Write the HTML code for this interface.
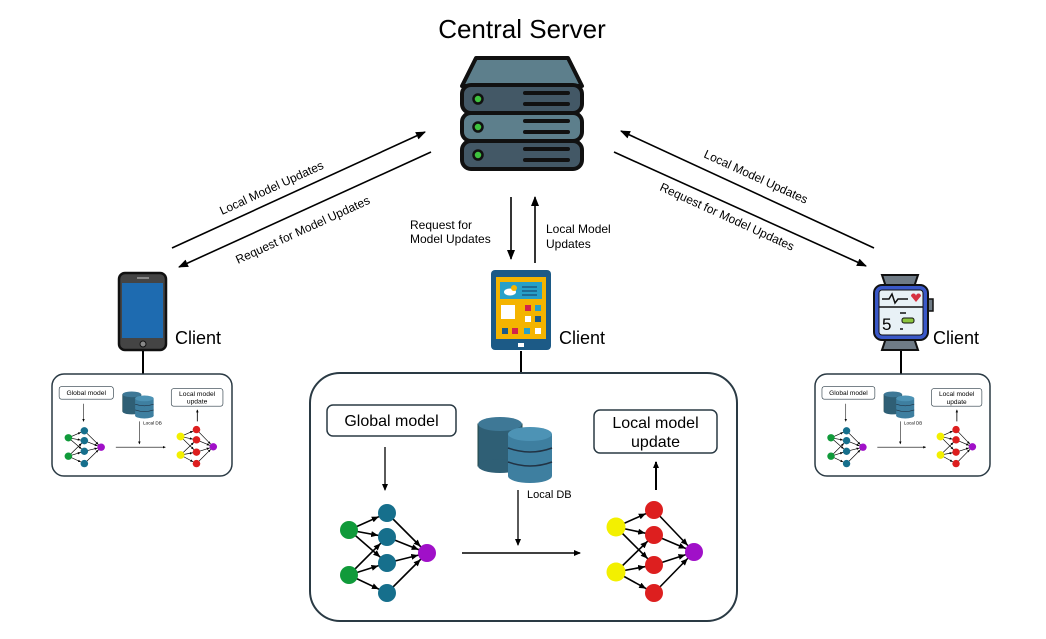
<!DOCTYPE html>
<html><head><meta charset="utf-8"><style>
html,body{margin:0;padding:0;background:#fff;}
svg{display:block;font-family:"Liberation Sans",Arial,sans-serif;}
</style></head><body>
<svg width="1046" height="639" viewBox="0 0 1046 639" xmlns="http://www.w3.org/2000/svg">
<defs>
<marker id="ah" markerWidth="10" markerHeight="8" refX="9" refY="4" orient="auto" markerUnits="userSpaceOnUse">
<path d="M0,0 L10,4 L0,8 z" fill="#000"/></marker>
<marker id="ahs" markerWidth="7" markerHeight="6" refX="6" refY="3" orient="auto" markerUnits="userSpaceOnUse">
<path d="M0,0 L7,3 L0,6 z" fill="#000"/></marker>
<marker id="ahn" markerWidth="20" markerHeight="6" refX="16" refY="3" orient="auto" markerUnits="userSpaceOnUse">
<path d="M0,0 L7,3 L0,6 z" fill="#000"/></marker>
<g id="db">
  <rect x="0" y="8" width="44" height="42" fill="#2f5f75" stroke="#244" stroke-width="1"/>
  <ellipse cx="22" cy="50" rx="22" ry="7" fill="#2f5f75"/>
  <ellipse cx="22" cy="8" rx="22" ry="7" fill="#3e7896"/>
  <rect x="30" y="18" width="44" height="42" fill="#3e7fa0"/>
  <ellipse cx="52" cy="60" rx="22" ry="7" fill="#3e7fa0"/>
  <ellipse cx="52" cy="18" rx="22" ry="7" fill="#4d93b5"/>
  <path d="M30,32 Q52,40 74,32 M30,46 Q52,54 74,46" stroke="#234" stroke-width="1.5" fill="none"/>
</g>
<g id="content">
  <rect x="17" y="33" width="129" height="31" rx="6" fill="#fff" stroke="#2a3a44" stroke-width="1.5"/>
  <text x="81.5" y="54" font-size="16" text-anchor="middle">Global model</text>
  <rect x="284" y="38" width="123" height="43" rx="6" fill="#fff" stroke="#2a3a44" stroke-width="1.5"/>
  <text x="345.5" y="56" font-size="16" text-anchor="middle">Local model</text>
  <text x="345.5" y="75" font-size="16" text-anchor="middle">update</text>
  <use href="#db" x="168" y="44"/>
  <text x="217" y="126" font-size="11">Local DB</text>
  <line x1="75" y1="75" x2="75" y2="118" stroke="#000" stroke-width="1.3" marker-end="url(#ahs)"/>
  <line x1="208" y1="118" x2="208" y2="173" stroke="#000" stroke-width="1.3" marker-end="url(#ahs)"/>
  <line x1="152" y1="181" x2="270" y2="181" stroke="#000" stroke-width="1.5" marker-end="url(#ahs)"/>
  <line x1="346" y1="118" x2="346" y2="90" stroke="#000" stroke-width="2" marker-end="url(#ahs)"/>
  <g stroke="#000" stroke-width="1.6" marker-end="url(#ahn)">
    <line x1="39" y1="158" x2="77" y2="141"/><line x1="39" y1="158" x2="77" y2="165"/><line x1="39" y1="158" x2="77" y2="191"/>
    <line x1="39" y1="203" x2="77" y2="165"/><line x1="39" y1="203" x2="77" y2="191"/><line x1="39" y1="203" x2="77" y2="221"/>
    <line x1="77" y1="141" x2="117" y2="181"/><line x1="77" y1="165" x2="117" y2="181"/><line x1="77" y1="191" x2="117" y2="181"/><line x1="77" y1="221" x2="117" y2="181"/>
    <line x1="306" y1="155" x2="344" y2="138"/><line x1="306" y1="155" x2="344" y2="163"/><line x1="306" y1="155" x2="344" y2="193"/>
    <line x1="306" y1="200" x2="344" y2="163"/><line x1="306" y1="200" x2="344" y2="193"/><line x1="306" y1="200" x2="344" y2="221"/>
    <line x1="344" y1="138" x2="384" y2="180"/><line x1="344" y1="163" x2="384" y2="180"/><line x1="344" y1="193" x2="384" y2="180"/><line x1="344" y1="221" x2="384" y2="180"/>
  </g>
  <g fill="#109a3a"><circle cx="39" cy="158" r="9"/><circle cx="39" cy="203" r="9"/></g>
  <g fill="#166f8c"><circle cx="77" cy="141" r="9"/><circle cx="77" cy="165" r="9"/><circle cx="77" cy="191" r="9"/><circle cx="77" cy="221" r="9"/></g>
  <circle cx="117" cy="181" r="9" fill="#a010c8"/>
  <g fill="#f3f000"><circle cx="306" cy="155" r="9.5"/><circle cx="306" cy="200" r="9.5"/></g>
  <g fill="#dd1f1f"><circle cx="344" cy="138" r="9"/><circle cx="344" cy="163" r="9"/><circle cx="344" cy="193" r="9"/><circle cx="344" cy="221" r="9"/></g>
  <circle cx="384" cy="180" r="9" fill="#a010c8"/>
</g>
</defs>

<text x="522" y="38" font-size="26" text-anchor="middle">Central Server</text>

<g stroke="#111" stroke-width="4" stroke-linejoin="round">
  <path d="M476,58 L568,58 L582,86 L462,86 Z" fill="#5d7f8c"/>
  <rect x="462" y="85" width="120" height="28" rx="9" fill="#435866"/>
  <rect x="462" y="113" width="120" height="28" rx="9" fill="#5d7f8c"/>
  <rect x="462" y="141" width="120" height="28" rx="9" fill="#435866"/>
</g>
<g fill="#3ec23e" stroke="#111" stroke-width="2.5">
  <circle cx="478" cy="99" r="4.5"/><circle cx="478" cy="127" r="4.5"/><circle cx="478" cy="155" r="4.5"/>
</g>
<g stroke="#111" stroke-width="4" stroke-linecap="round">
  <line x1="525" y1="93" x2="568" y2="93"/><line x1="525" y1="104" x2="568" y2="104"/>
  <line x1="525" y1="121" x2="568" y2="121"/><line x1="525" y1="132" x2="568" y2="132"/>
  <line x1="525" y1="149" x2="568" y2="149"/><line x1="525" y1="160" x2="568" y2="160"/>
</g>

<g stroke="#000" stroke-width="1.6">
  <line x1="172" y1="248" x2="425" y2="132" marker-end="url(#ah)"/>
  <line x1="431" y1="152" x2="179" y2="267" marker-end="url(#ah)"/>
  <line x1="874" y1="248" x2="621" y2="131" marker-end="url(#ah)"/>
  <line x1="614" y1="152" x2="866" y2="266" marker-end="url(#ah)"/>
  <line x1="511" y1="197" x2="511" y2="259" marker-end="url(#ah)"/>
  <line x1="535" y1="263" x2="535" y2="197" marker-end="url(#ah)"/>
</g>
<g font-size="12">
  <text transform="translate(222,215) rotate(-24.6)">Local Model Updates</text>
  <text transform="translate(238,264) rotate(-24.6)">Request for Model Updates</text>
  <text transform="translate(703,157) rotate(24.6)">Local Model Updates</text>
  <text transform="translate(659,190) rotate(24.6)">Request for Model Updates</text>
  <text x="410" y="229">Request for</text>
  <text x="410" y="243">Model Updates</text>
  <text x="546" y="233">Local Model</text>
  <text x="546" y="248">Updates</text>
</g>

<rect x="119" y="273" width="47" height="77" rx="6" fill="#444" stroke="#111" stroke-width="2.5"/>
<rect x="122" y="283" width="41" height="55" fill="#1e6bb0"/>
<line x1="137" y1="278" x2="149" y2="278" stroke="#888" stroke-width="2"/>
<circle cx="143" cy="344" r="3" fill="#888" stroke="#111" stroke-width="1"/>
<line x1="143" y1="351" x2="143" y2="374" stroke="#000" stroke-width="2"/>
<text x="175" y="344" font-size="18">Client</text>

<rect x="491" y="270" width="60" height="80" rx="4" fill="#1c5a86"/>
<rect x="496" y="277" width="50" height="62" fill="#f4b400"/>
<rect x="500" y="282" width="42" height="17" fill="#27a0c8"/>
<ellipse cx="510" cy="292" rx="6" ry="3.5" fill="#fff"/><circle cx="514" cy="288" r="3" fill="#f4b400"/>
<g stroke="#1c5a86" stroke-width="1.5"><line x1="522" y1="287" x2="537" y2="287"/><line x1="522" y1="291" x2="537" y2="291"/><line x1="522" y1="295" x2="537" y2="295"/></g>
<rect x="501" y="305" width="14" height="14" fill="#fff"/>
<rect x="525" y="305" width="6" height="6" fill="#d0234c"/><rect x="535" y="305" width="6" height="6" fill="#27a0c8"/>
<rect x="525" y="316" width="6" height="6" fill="#fff"/><rect x="535" y="316" width="6" height="6" fill="#1c5a86"/>
<rect x="502" y="328" width="6" height="6" fill="#1c5a86"/><rect x="512" y="328" width="6" height="6" fill="#d0234c"/><rect x="524" y="328" width="6" height="6" fill="#27a0c8"/><rect x="535" y="328" width="6" height="6" fill="#fff"/>
<rect x="518" y="343" width="6" height="4" fill="#fff"/>
<line x1="521" y1="351" x2="521" y2="372" stroke="#000" stroke-width="2"/>
<text x="559" y="344" font-size="18">Client</text>

<path d="M882,275 L918,275 L914,287 L886,287 Z" fill="#6f7b86" stroke="#111" stroke-width="2"/>
<path d="M886,338 L914,338 L918,350 L882,350 Z" fill="#6f7b86" stroke="#111" stroke-width="2"/>
<rect x="927" y="299" width="6" height="12" fill="#6f7b86" stroke="#111" stroke-width="1.5"/>
<rect x="874" y="285" width="54" height="55" rx="8" fill="#3a58c8" stroke="#111" stroke-width="2"/>
<rect x="879" y="290" width="44" height="45" rx="3" fill="#e8f1f6" stroke="#111" stroke-width="1"/>
<line x1="879" y1="307" x2="923" y2="307" stroke="#111" stroke-width="1.5"/>
<path d="M882,299 L889,299 L892,294 L895,303 L898,299 L908,299" stroke="#111" stroke-width="1.5" fill="none"/>
<path d="M914,296 a2.5,2.5 0 0 1 5,0 a2.5,2.5 0 0 1 5,0 l-5,6 z" fill="#d63040" transform="translate(-3,0)"/>
<text x="882" y="330" font-size="17">5</text>
<rect x="902" y="318" width="12" height="5" rx="2" fill="#8dc63f" stroke="#111" stroke-width="1"/>
<line x1="900" y1="313" x2="906" y2="313" stroke="#111" stroke-width="1.5"/>
<line x1="900" y1="329" x2="903" y2="329" stroke="#111" stroke-width="1.5"/>
<line x1="901" y1="351" x2="901" y2="374" stroke="#000" stroke-width="2"/>
<text x="933" y="344" font-size="18">Client</text>

<rect x="310" y="373" width="427" height="248" rx="30" fill="#fff" stroke="#2a3a44" stroke-width="2"/>
<use href="#content" x="310" y="372"/>

<rect x="52" y="374" width="180" height="102" rx="12" fill="#fff" stroke="#2a3a44" stroke-width="1.5"/>
<g transform="translate(52,373) scale(0.42,0.41)"><use href="#content"/></g>
<rect x="815" y="374" width="175" height="102" rx="12" fill="#fff" stroke="#2a3a44" stroke-width="1.5"/>
<g transform="translate(815,373) scale(0.41,0.41)"><use href="#content"/></g>
</svg>
</body></html>
